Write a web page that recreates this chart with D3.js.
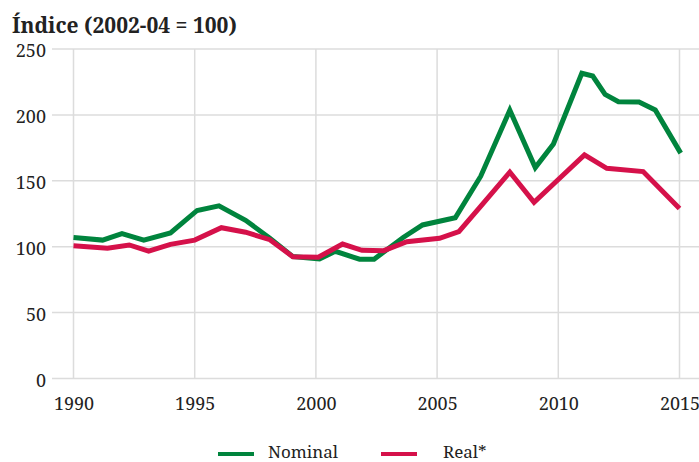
<!DOCTYPE html>
<html>
<head>
<meta charset="utf-8">
<script src="https://cdn.jsdelivr.net/npm/d3@7"></script>
<style>
  body { margin: 0; background: #fff; }
  svg text { font-family: "Noto Serif", "Liberation Serif", serif; }
</style>
</head>
<body>
<div id="chart"></div>
<script>
// values (index, 2002-04 = 100)
let nominalYears  = [1990, 1991.2, 1992, 1992.9, 1994, 1995.1, 1996, 1997.1, 1998.1, 1999.05, 2000.15, 2000.8, 2001.8, 2002.4, 2003.6, 2004.4, 2005.75, 2006.8, 2008, 2009.05, 2009.8, 2010.97, 2011.42, 2011.93, 2012.48, 2013.33, 2014, 2015.05];
let nominalValues = [107, 105, 110, 105, 110.5, 127.5, 131, 120, 106.5, 92.5, 90.7, 96.5, 90.5, 90.5, 107, 116.5, 122, 153.5, 203.5, 160, 178, 231.6, 229.5, 215.6, 210, 209.8, 203.7, 171];

let realYears  = [1990, 1991.4, 1992.3, 1993.1, 1994, 1995, 1996.1, 1997.1, 1998.1, 1999.05, 2000.1, 2001.1, 2001.9, 2002.8, 2003.75, 2005.1, 2005.9, 2006.84, 2008, 2009, 2010, 2011.08, 2012, 2013.5, 2015];
let realValues = [100.8, 98.8, 101.3, 96.7, 101.8, 105, 114.4, 111, 105.3, 92.4, 92, 102, 97.3, 97, 103.8, 106.4, 111.4, 131.6, 156.6, 133.6, 151, 169.6, 159.5, 157, 129];

let yTicks = [0, 50, 100, 150, 200, 250];
let xTicks = [1990, 1995, 2000, 2005, 2010, 2015];
let seriesNames  = ['Nominal', 'Real*'];
let seriesColors = ['#00843d', '#d5114a'];

let width = 699, height = 462;
let margin = {top: 49, bottom: 84, left: 52, right: 0};

let svg = d3.select('#chart')
  .append('svg')
  .attr('width', width)
  .attr('height', height);

let xScale = d3.scaleLinear()
  .domain([1990, 2015])
  .range([73.5, 679.5]);

let yScale = d3.scaleLinear()
  .domain([0, 250])
  .range([height - margin.bottom + 0.5, margin.top]);

// gridlines
svg.append('g')
  .selectAll('line')
  .data(yTicks)
  .enter()
  .append('line')
  .attr('x1', margin.left)
  .attr('x2', width)
  .attr('y1', d => yScale(d))
  .attr('y2', d => yScale(d))
  .attr('stroke', '#dcdcdc')
  .attr('stroke-width', 1.5);

svg.append('g')
  .selectAll('line')
  .data(xTicks)
  .enter()
  .append('line')
  .attr('x1', d => xScale(d))
  .attr('x2', d => xScale(d))
  .attr('y1', yScale(250))
  .attr('y2', yScale(0))
  .attr('stroke', '#dcdcdc')
  .attr('stroke-width', 1.5);

// axis labels
let yAxis = svg.append('g')
  .attr('transform', `translate(${margin.left - 6},0)`)
  .call(d3.axisLeft(yScale).tickValues(yTicks).tickSize(0).tickPadding(0));
yAxis.attr('font-family', null);
yAxis.select('.domain').remove();
yAxis.selectAll('text')
  .attr('font-size', 18)
  .attr('fill', '#222')
  .attr('dy', '0.42em');

let xAxis = svg.append('g')
  .attr('transform', `translate(0,${yScale(0)})`)
  .call(d3.axisBottom(xScale).tickValues(xTicks).tickFormat(d3.format('d')).tickSize(0).tickPadding(0));
xAxis.attr('font-family', null);
xAxis.select('.domain').remove();
xAxis.selectAll('text')
  .attr('font-size', 18)
  .attr('fill', '#222')
  .attr('dy', '1.75em');

// title
svg.append('text')
  .attr('x', 12)
  .attr('y', 33)
  .attr('font-size', 21)
  .attr('font-weight', 'bold')
  .attr('fill', '#222')
  .text('Índice (2002-04 = 100)');

// lines
let line = d3.line()
  .x(d => xScale(d[0]))
  .y(d => yScale(d[1]));

let series = [
  d3.zip(nominalYears, nominalValues),
  d3.zip(realYears, realValues)
];

svg.selectAll('path.series')
  .data(series)
  .enter()
  .append('path')
  .attr('class', 'series')
  .attr('d', line)
  .attr('fill', 'none')
  .attr('stroke', (d, i) => seriesColors[i])
  .attr('stroke-width', 5)
  .attr('stroke-linejoin', 'miter');

// legend
let legendX = [218, 381];
let legend = svg.append('g')
  .selectAll('g')
  .data(seriesNames)
  .enter()
  .append('g')
  .attr('transform', (d, i) => `translate(${legendX[i]},454)`);

legend.append('line')
  .attr('x1', 0)
  .attr('x2', 36)
  .attr('stroke', (d, i) => seriesColors[i])
  .attr('stroke-width', 4);

legend.append('text')
  .attr('x', (d, i) => i == 0 ? 50 : 62)
  .attr('dy', '0.25em')
  .attr('font-size', 17)
  .attr('fill', '#222')
  .text(d => d);
</script>
</body>
</html>
